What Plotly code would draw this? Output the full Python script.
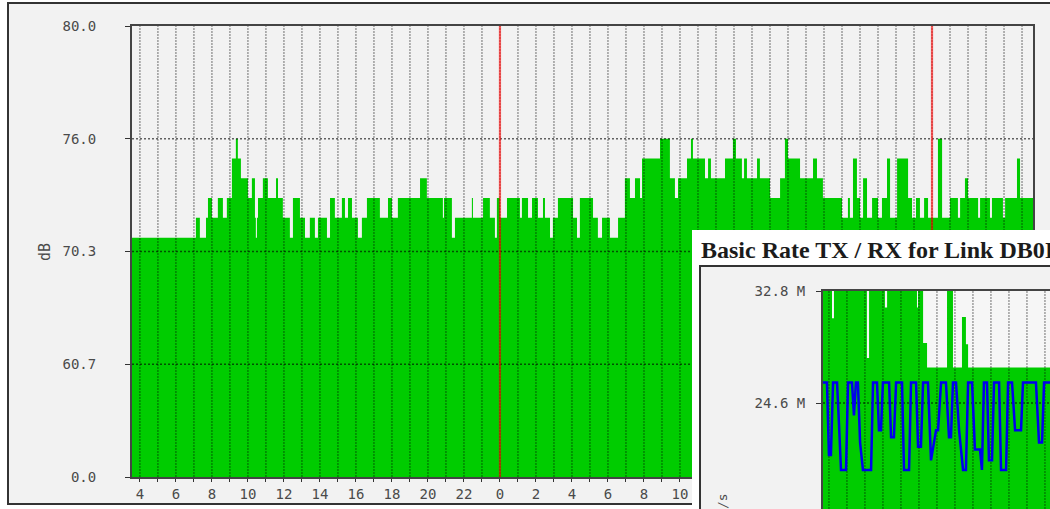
import numpy as np
import plotly.graph_objects as go

W, H = 1050, 509

# ---------------- main chart data (signal level, dB) ----------------
# x is hours on a continuous clock: 4 = 04:00 day 1, 24 = midnight, 34 = 10:00 day 2
run_start_h = [
    3.56, 7.11, 7.33, 7.67, 7.78, 8.00, 8.33, 8.61, 8.83, 9.11,
    9.33, 9.44, 9.61, 10.00, 10.22, 10.39, 10.44, 10.50, 10.56, 10.83,
    11.11, 11.56, 11.67, 11.94, 12.33, 12.50, 12.89, 13.17, 13.44, 13.72,
    13.89, 14.39, 14.56, 14.83, 15.22, 15.39, 15.56, 15.78, 16.11, 16.33,
    16.61, 17.33, 17.78, 18.00, 18.33, 19.56, 19.94, 20.83, 20.89, 21.33,
    21.50, 22.44, 22.50, 23.06, 23.44, 23.72, 23.83, 24.00, 24.39, 25.11,
    25.22, 25.56, 25.78, 26.11, 26.39, 26.50, 26.78, 26.94, 27.22, 28.06,
    28.28, 28.44, 29.17, 29.44, 29.67, 30.11, 30.56, 30.94, 31.22, 31.50,
    31.78, 31.89, 32.89, 33.44, 33.72, 33.89, 34.39, 34.61, 34.72, 35.39,
    35.56, 35.72, 36.50, 36.94, 37.11, 37.44, 37.56, 37.72, 38.28, 38.44,
    39.00, 39.56, 39.83, 40.00, 40.67, 41.39, 41.61, 41.94, 43.00, 43.33,
    43.44, 43.61, 43.83, 44.00, 44.17, 44.39, 44.67, 45.00, 45.22, 45.50,
    45.67, 46.06, 46.67, 46.89, 47.11, 47.33, 47.56, 47.78, 48.33, 48.56,
    49.00, 49.44, 49.56, 49.83, 50.00, 50.56, 50.67, 51.22, 51.33, 51.94,
    52.06, 52.72, 52.89,
]
run_db = [
    71, 72, 71, 72, 73, 72, 73, 72, 73, 75,
    76, 75, 74, 73, 74, 72, 71, 72, 73, 74,
    73, 74, 73, 72, 71, 73, 72, 71, 72, 71,
    72, 71, 73, 72, 73, 72, 73, 72, 71, 72,
    73, 72, 73, 72, 73, 74, 73, 72, 73, 71,
    72, 73, 72, 73, 72, 71, 73, 72, 73, 72,
    73, 72, 73, 72, 73, 72, 71, 72, 73, 72,
    71, 73, 72, 71, 72, 71, 72, 74, 73, 74,
    73, 75, 76, 74, 73, 74, 75, 76, 75, 74,
    75, 74, 75, 76, 75, 74, 75, 74, 75, 74,
    73, 74, 76, 75, 74, 75, 74, 73, 72, 73,
    72, 75, 73, 72, 74, 72, 73, 72, 73, 75,
    72, 75, 73, 72, 73, 72, 73, 72, 76, 72,
    73, 72, 73, 74, 73, 72, 73, 72, 73, 72,
    73, 75, 73,
]
assert len(run_start_h) == len(run_db)
main_end_h = 53.61

# y axis labels (MRTG exponential scale) and x labels
y_tick_db = [0.0, 60.7, 70.3, 76.0, 80.0]
y_tick_text = ["0.0", "60.7", "70.3", "76.0", "80.0"]
x_hours = list(range(4, 54))
midnights = [24, 48]

# ---------------- inset chart data (Basic Rate TX / RX, M) ----------------
tx_t = [3.67, 4.17, 4.28, 6.11, 6.23, 7.11, 7.23, 8.89, 8.95, 9.23,
        9.45, 10.56, 10.89, 11.39, 11.61, 11.73, 16.28]
tx_m = [33.5, 30.8, 33.5, 27.9, 33.5, 31.6, 33.5, 31.6, 33.5, 29.0,
        27.2, 33.5, 27.2, 30.9, 28.9, 27.2, 27.2]
rx_t = [3.67, 3.89, 4.00, 4.11, 4.23, 4.45, 4.56, 4.67, 4.95, 5.06,
        5.28, 5.39, 5.50, 5.61, 5.73, 5.89, 6.34, 6.45, 6.67, 6.78,
        6.89, 7.00, 7.34, 7.45, 7.61, 7.73, 8.06, 8.17, 8.45, 8.56,
        8.84, 8.95, 9.11, 9.23, 9.50, 9.67, 9.95, 10.06, 10.23, 10.50,
        10.67, 10.78, 10.89, 11.06, 11.23, 11.45, 11.61, 11.73, 11.95, 12.11,
        12.39, 12.50, 12.61, 12.78, 12.89, 13.06, 13.17, 13.45, 13.56, 13.84,
        13.95, 14.17, 14.34, 14.67, 14.78, 15.50, 15.67, 15.84, 15.95, 16.28]
rx_m = [26.1, 26.1, 20.8, 20.8, 26.1, 26.1, 23.0, 19.7, 19.7, 26.1,
        26.1, 23.7, 26.1, 26.1, 21.7, 19.7, 19.7, 26.1, 26.1, 22.6,
        22.6, 26.1, 26.1, 22.1, 22.1, 26.1, 26.1, 19.7, 19.7, 26.1,
        26.1, 21.4, 21.4, 26.1, 26.1, 20.4, 22.6, 22.6, 26.1, 26.1,
        22.1, 22.1, 26.1, 26.1, 22.6, 19.7, 19.7, 26.1, 26.1, 21.2,
        21.2, 19.7, 26.1, 26.1, 20.4, 20.4, 26.1, 26.1, 19.7, 19.7,
        26.1, 26.1, 22.6, 22.6, 26.1, 26.1, 21.7, 21.7, 26.1, 26.1]
inset_y_ticks = [24.6, 32.8]
inset_y_text = ["24.6 M", "32.8 M"]
inset_hours = list(range(4, 17))
inset_title = "Basic Rate TX / RX for Link DB0I"

# ---------------- helpers ----------------
y_pos = list(range(len(y_tick_db)))


def to_axis(v):
    return np.interp(v, y_tick_db, y_pos)


MONO = "DejaVu Sans Mono"
LBL = "#4a4a4a"
GREEN = "#00cc00"

main_x_range = [run_start_h[0], main_end_h]
inset_x_range = [3.67, 16.28]
inset_y_range = [16.84, 32.8]


def vlines(xs, y0, y1):
    xx, yy = [], []
    for v in xs:
        xx += [v, v, None]
        yy += [y0, y1, None]
    return xx, yy


def hlines(ys, x0, x1):
    xx, yy = [], []
    for v in ys:
        xx += [x0, x1, None]
        yy += [v, v, None]
    return xx, yy


fig = go.Figure()

# main signal area
fig.add_trace(go.Scatter(
    x=run_start_h + [main_end_h],
    y=to_axis(run_db + [run_db[-1]]),
    mode="lines", line=dict(shape="hv", width=0, color=GREEN),
    fill="tozeroy", fillcolor=GREEN, hoverinfo="skip", xaxis="x", yaxis="y"))

# main grid (drawn over the data, MRTG style)
gx, gy = vlines(x_hours, 0, y_pos[-1])
fig.add_trace(go.Scatter(x=gx, y=gy, mode="lines",
                         line=dict(color="rgba(0,0,0,0.45)", width=1.2, dash="2px,1px"),
                         hoverinfo="skip", xaxis="x", yaxis="y"))
hx, hy = hlines(y_pos[1:-1], main_x_range[0], main_x_range[1])
fig.add_trace(go.Scatter(x=hx, y=hy, mode="lines",
                         line=dict(color="rgba(0,0,0,0.6)", width=1.5, dash="2px,2px"),
                         hoverinfo="skip", xaxis="x", yaxis="y"))
rx_, ry_ = vlines(midnights, 0, y_pos[-1])
fig.add_trace(go.Scatter(x=rx_, y=ry_, mode="lines",
                         line=dict(color="rgba(255,0,0,0.6)", width=2.2),
                         hoverinfo="skip", xaxis="x", yaxis="y"))

# backdrop subplot for the overlapping second image
fig.add_trace(go.Scatter(x=[], y=[], xaxis="x2", yaxis="y2", hoverinfo="skip"))

# inset traces
fig.add_trace(go.Scatter(
    x=tx_t, y=tx_m, mode="lines", line=dict(shape="hv", width=0, color=GREEN),
    fill="tozeroy", fillcolor=GREEN, hoverinfo="skip", xaxis="x3", yaxis="y3"))
ix, iy = vlines(inset_hours, inset_y_range[0], inset_y_range[1])
fig.add_trace(go.Scatter(x=ix, y=iy, mode="lines",
                         line=dict(color="rgba(0,0,0,0.45)", width=1.2, dash="2px,1px"),
                         hoverinfo="skip", xaxis="x3", yaxis="y3"))
jx, jy = hlines(inset_y_ticks[:1], inset_x_range[0], inset_x_range[1])
fig.add_trace(go.Scatter(x=jx, y=jy, mode="lines",
                         line=dict(color="rgba(0,0,0,0.6)", width=1.5, dash="2px,2px"),
                         hoverinfo="skip", xaxis="x3", yaxis="y3"))
fig.add_trace(go.Scatter(x=rx_t, y=rx_m, mode="lines",
                         line=dict(color="#0000ee", width=2.5),
                         hoverinfo="skip", xaxis="x3", yaxis="y3"))

axis_common = dict(showgrid=False, zeroline=False, automargin=False, fixedrange=True)

fig.update_layout(
    width=W, height=H, autosize=False,
    margin=dict(l=0, r=0, t=0, b=0, pad=0),
    paper_bgcolor="white", plot_bgcolor="#f6f6f6",
    showlegend=False,
    xaxis=dict(domain=[132 / W, 1033 / W], range=main_x_range, anchor="y",
               tickmode="array", tickvals=x_hours,
               ticktext=[str(h % 24) if h % 2 == 0 else "" for h in x_hours],
               ticks="outside", ticklen=3, tickcolor="#333", ticklabelstandoff=0,
               tickfont=dict(family=MONO, size=14, color=LBL),
               showline=True, mirror=True, linecolor="#444", linewidth=2, **axis_common),
    yaxis=dict(domain=[1 - 477 / H, 1 - 26 / H], range=[0, y_pos[-1]], anchor="x",
               tickmode="array", tickvals=y_pos, ticktext=y_tick_text,
               ticks="outside", ticklen=5, tickcolor="#333", ticklabelstandoff=26,
               tickfont=dict(family=MONO, size=14, color=LBL),
               showline=True, mirror=True, linecolor="#444", linewidth=2, **axis_common),
    xaxis2=dict(domain=[692 / W, 1], range=[0, 1], anchor="y2", visible=False, **axis_common),
    yaxis2=dict(domain=[0, 1 - 230 / H], range=[0, 1], anchor="x2", visible=False, **axis_common),
    xaxis3=dict(domain=[823 / W, 1], range=inset_x_range, anchor="y3", side="top",
                showticklabels=False, ticks="",
                showline=True, linecolor="#444", linewidth=2, **axis_common),
    yaxis3=dict(domain=[0, 1 - 291 / H], range=inset_y_range, anchor="x3",
                tickmode="array", tickvals=inset_y_ticks, ticktext=inset_y_text,
                ticks="outside", ticklen=5, tickcolor="#333", ticklabelstandoff=8,
                tickfont=dict(family=MONO, size=14, color=LBL),
                showline=True, linecolor="#444", linewidth=2, **axis_common),
    shapes=[
        # outer MRTG frame of the main image
        dict(type="rect", xref="paper", yref="paper", layer="below",
             x0=8 / W, x1=1.05, y0=1 - 504 / H, y1=1 - 3 / H,
             fillcolor="#f2f2f2", line=dict(color="#333", width=2)),
        # white page behind the overlapping second image
        dict(type="rect", xref="x2", yref="y2", layer="below",
             x0=-0.05, x1=1.05, y0=-0.05, y1=1.05,
             fillcolor="white", line=dict(width=0)),
        # frame of the second image
        dict(type="rect", xref="x2", yref="y2", layer="below",
             x0=(700 - 692) / (W - 692), x1=1.2, y0=-0.2, y1=(H - 266) / (H - 230),
             fillcolor="#f2f2f2", line=dict(color="#333", width=2)),
    ],
    annotations=[
        dict(text="dB", x=34 / W, y=1 - 252 / H, xref="paper", yref="paper",
             showarrow=False, textangle=-90,
             font=dict(family=MONO, size=15, color=LBL)),
        dict(text="<b>" + inset_title + "</b>", x=699 / W, y=1 - 250 / H,
             xref="paper", yref="paper", xanchor="left", yanchor="middle",
             showarrow=False,
             font=dict(family="Liberation Serif", size=24, color="#1b1b1b")),
        dict(text="Bit/s", x=722 / W, y=1 - 492 / H, xref="paper", yref="paper",
             xanchor="center", yanchor="top", showarrow=False, textangle=-90,
             font=dict(family=MONO, size=13, color=LBL)),
    ],
)

fig.write_html("out.html", config={"displayModeBar": False},
               post_script="document.body.style.margin='0';document.body.style.overflow='hidden';")
